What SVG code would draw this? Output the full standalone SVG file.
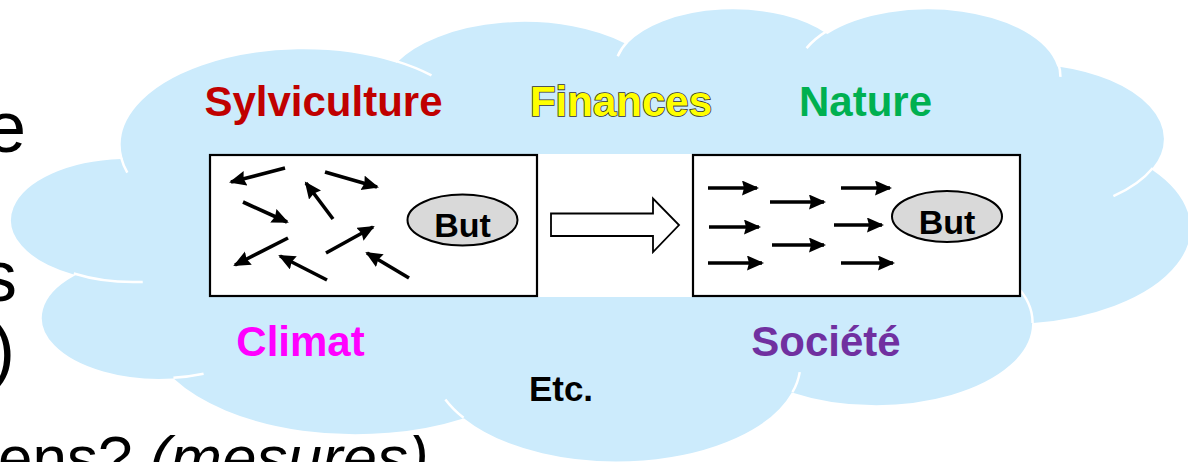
<svg xmlns="http://www.w3.org/2000/svg" width="1188" height="462" viewBox="0 0 1188 462">
  <style>
    .lbl { font-family: "Liberation Sans", Arial, sans-serif; font-weight: bold; font-size: 42px; text-anchor: middle; }
    .bg { font-family: "Liberation Sans", Arial, sans-serif; font-size: 72px; fill: #000; }
    .bg2 { font-family: "Liberation Sans", Arial, sans-serif; font-size: 62px; fill: #000; }
    .etc { font-family: "Liberation Sans", Arial, sans-serif; font-weight: bold; font-size: 35px; text-anchor: middle; fill: #000; }
    .cloud { fill: #CCEBFC; stroke: #FFFFFF; stroke-width: 2.5; vector-effect: non-scaling-stroke; }
    .seam { fill: none; stroke: #FFFFFF; stroke-width: 2.5; vector-effect: non-scaling-stroke; }
    .box { fill: #FFFFFF; stroke: #000; stroke-width: 2.2; }
    .goal { fill: #D9D9D9; stroke: #000; stroke-width: 2; }
    .goaltxt { font-family: "Liberation Sans", Arial, sans-serif; font-weight: bold; font-size: 34px; text-anchor: middle; fill: #000; }
    .arr { fill: none; stroke: #000; stroke-width: 3.6; marker-end: url(#ah); }
  </style>
  <defs>
    <marker id="ah" markerUnits="userSpaceOnUse" markerWidth="18" markerHeight="16" refX="15" refY="7.5" orient="auto">
      <path d="M0,0 L17,7.5 L0,15 L2,7.5 Z" fill="#000"/>
    </marker>
  </defs>

  <rect x="0" y="0" width="1188" height="462" fill="#FFFFFF"/>

  <!-- background slide text, cut off -->
  <g id="bgtext">
    <text class="bg" x="-14" y="152">e</text>
    <text class="bg" x="-19" y="301">s</text>
    <text class="bg" x="-9" y="374">)</text>
    <text class="bg2" x="-2" y="479">ens? <tspan font-style="italic">(mesures)</tspan></text>
  </g>

  <!-- cloud -->
  <g id="cloud" transform="translate(15 6.5) scale(0.027222 0.010521)">
    <path class="cloud" d="M3900 14370 A6753 9190 0 0 1 14006.1 5202.9 A5333 7267 0 0 1 22457.3 3433.5 A4365 5945 0 0 1 29832.9 2479.2 A4857 6595 0 0 1 38318.6 5573.4 A5333 7273 0 0 1 41819 15457.4 A6775 9220 0 0 1 37407.4 30205.1 A5785 7867 0 0 1 28558.9 36815.3 A6752 9215 0 0 1 16484 39268.3 A7720 10543 0 0 1 5806.6 35474.4 A4360 5918 0 0 1 2113.5 25555.2 A4345 5945 0 0 1 3900 14370 Z"/>
    <path class="seam" d="M4693 26177 A4345 5945 0 0 1 2159.9 25380.1 M6928 34899 A4360 5918 0 0 1 5819.5 35280.5 M16478 39090 A6752 9215 0 0 1 15809.4 37348.4 M28827 34751 A6752 9215 0 0 1 28560.6 36659.8 M34129 22954 A5785 7867 0 0 1 37379.8 30089.2 M41798 15354 A5333 7273 0 0 1 40349.8 18029.9 M38324 5426 A4857 6595 0 0 1 38400.4 6689.8 M29078 3952 A4857 6595 0 0 1 29819.2 2341.1 M22141 4720 A4365 5945 0 0 1 22500 3330.6 M14000 5192 A6753 9190 0 0 1 15299.4 6540.4 M4127 15789 A6753 9190 0 0 1 3900.4 14371.1"/>
  </g>

  <!-- labels -->
  <g id="label-sylviculture"><text class="lbl" x="323.5" y="116" fill="#C00000">Sylviculture</text></g>
  <g id="label-finances"><text class="lbl" x="621" y="116" fill="#FFFF00" stroke="#333333" stroke-width="1.6" paint-order="stroke">Finances</text></g>
  <g id="label-nature"><text class="lbl" x="865.5" y="116" fill="#00B050">Nature</text></g>
  <g id="label-climat"><text class="lbl" x="300.5" y="356" fill="#FF00FF">Climat</text></g>
  <g id="label-societe"><text class="lbl" x="826" y="356" fill="#7030A0">Société</text></g>
  <g id="label-etc"><text class="etc" x="561" y="401">Etc.</text></g>

  <!-- picture background -->
  <rect x="209" y="154" width="812" height="143" fill="#FFFFFF"/>

  <!-- left box: chaotic state -->
  <g id="box-chaos">
    <rect class="box" x="210" y="155" width="327" height="141"/>
    <ellipse class="goal" cx="462.5" cy="220" rx="55" ry="25.5"/>
    <text class="goaltxt" x="462.5" y="237">But</text>
  </g>

  <!-- right box: aligned state -->
  <g id="box-aligned">
    <rect class="box" x="693" y="155" width="327" height="141"/>
    <ellipse class="goal" cx="947" cy="216.5" rx="55" ry="25.5"/>
    <text class="goaltxt" x="947" y="233.5">But</text>
  </g>

  <!-- connectors -->
  <g id="connectors">
    <path class="arr" d="M285 168 L231 182"/>
    <path class="arr" d="M325 172 L377 187"/>
    <path class="arr" d="M333 219 L306 183"/>
    <path class="arr" d="M243 202 L287 222"/>
    <path class="arr" d="M288 238 L235 265"/>
    <path class="arr" d="M326 253 L373 227"/>
    <path class="arr" d="M327 280 L280 256"/>
    <path class="arr" d="M409 278 L367 253"/>

    <path class="arr" d="M708 188 L757 188"/>
    <path class="arr" d="M770 202 L824 202"/>
    <path class="arr" d="M841 188 L890 188"/>
    <path class="arr" d="M709 227 L759 227"/>
    <path class="arr" d="M834 225 L882 225"/>
    <path class="arr" d="M772 245 L824 245"/>
    <path class="arr" d="M708 263 L762 263"/>
    <path class="arr" d="M841 263 L893 263"/>

    <polygon points="551,213.5 653,213.5 653,198.5 679,225 653,252 653,236 551,236" fill="#FFFFFF" stroke="#000" stroke-width="1.8" stroke-linejoin="miter"/>
  </g>
</svg>
